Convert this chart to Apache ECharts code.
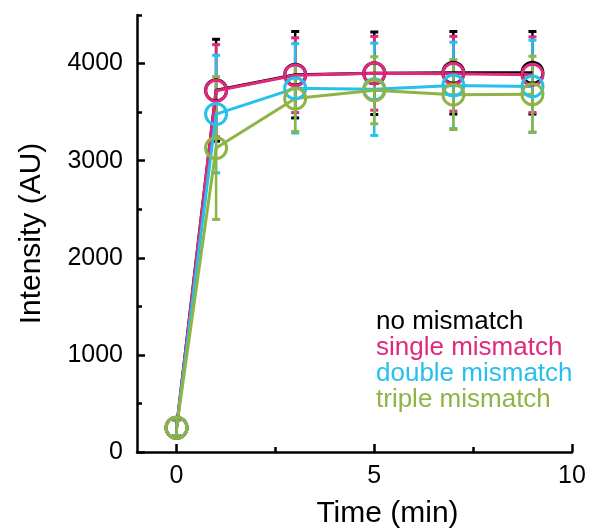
<!DOCTYPE html>
<html>
<head>
<meta charset="utf-8">
<script src="https://cdn.jsdelivr.net/npm/echarts@6/dist/echarts.min.js"></script>
<style>
  html, body { margin: 0; padding: 0; background: #fff; }
  #chart { width: 592px; height: 530px; }
</style>
</head>
<body>
<div id="chart"></div>
<script>
// time points (min)
const times = [0, 1, 3, 5, 7, 9];

// mean intensity (AU) and error (+/-) for each probe
const noMismatch = [250, 3725, 3885, 3900, 3905, 3905];
const noMismatchErr = [80, 525, 445, 425, 425, 425];
const singleMismatch = [250, 3720, 3880, 3900, 3895, 3885];
const singleMismatchErr = [80, 475, 385, 380, 385, 390];
const doubleMismatch = [250, 3480, 3745, 3735, 3775, 3765];
const doubleMismatchErr = [80, 605, 460, 475, 445, 475];
const tripleMismatch = [250, 3130, 3640, 3725, 3680, 3685];
const tripleMismatchErr = [80, 735, 340, 345, 360, 390];

const xMajorTicks = [0, 5, 10];
const xMinorTicks = [2.5, 7.5];
const yMajorTicks = [0, 1000, 2000, 3000, 4000];
const yMinorTicks = [500, 1500, 2500, 3500, 4500];

const groups = [
    { name: 'no mismatch', color: '#000000', mean: noMismatch, err: noMismatchErr },
    { name: 'single mismatch', color: '#e0287c', mean: singleMismatch, err: singleMismatchErr },
    { name: 'double mismatch', color: '#27c0ec', mean: doubleMismatch, err: doubleMismatchErr },
    { name: 'triple mismatch', color: '#8fb446', mean: tripleMismatch, err: tripleMismatchErr }
];

const font = 'Liberation Sans, Arial, sans-serif';

function errorBars(g) {
    return {
        type: 'custom',
        name: g.name,
        data: times.map((t, i) => [t, g.mean[i] - g.err[i], g.mean[i] + g.err[i]]),
        encode: { x: 0, y: [1, 2] },
        renderItem: (params, api) => {
            const lo = api.coord([api.value(0), api.value(1)]);
            const hi = api.coord([api.value(0), api.value(2)]);
            const cap = 4;
            return {
                type: 'group',
                children: [
                    { type: 'line', shape: { x1: lo[0], y1: lo[1], x2: hi[0], y2: hi[1] }, style: { stroke: g.color, lineWidth: 2.5 } },
                    { type: 'line', shape: { x1: lo[0] - cap, y1: lo[1], x2: lo[0] + cap, y2: lo[1] }, style: { stroke: g.color, lineWidth: 3 } },
                    { type: 'line', shape: { x1: hi[0] - cap, y1: hi[1], x2: hi[0] + cap, y2: hi[1] }, style: { stroke: g.color, lineWidth: 3 } }
                ]
            };
        }
    };
}

function meanLine(g) {
    return {
        type: 'line',
        name: g.name,
        data: times.map((t, i) => [t, g.mean[i]]),
        symbol: 'circle',
        symbolSize: 21,
        itemStyle: { color: 'transparent', borderColor: g.color, borderWidth: 3 },
        lineStyle: { color: g.color, width: 3 }
    };
}

const series = [];
groups.forEach(g => {
    series.push(errorBars(g));
    series.push(meanLine(g));
});

const chart = echarts.init(document.getElementById('chart'));

chart.setOption({
    animation: false,
    backgroundColor: '#fff',
    textStyle: { fontFamily: font },
    grid: { left: 137, right: 20, top: 15, bottom: 78, containLabel: false, outerBoundsMode: 'none' },
    legend: {
        orient: 'vertical',
        left: 371,
        top: 309,
        padding: 0,
        icon: 'none',
        itemWidth: 0,
        itemHeight: 26,
        itemGap: 0,
        selectedMode: false,
        textStyle: { fontSize: 26, lineHeight: 26, fontFamily: font },
        data: groups.map(g => ({ name: g.name, textStyle: { color: g.color } }))
    },
    xAxis: [
        {
            type: 'value',
            min: -1,
            max: 10,
            name: 'Time (min)',
            nameLocation: 'middle',
            nameGap: 47,
            nameTextStyle: { fontSize: 30, color: '#000', fontFamily: font, padding: [0, 0, 0, 66] },
            axisLine: { onZero: false, lineStyle: { color: '#000', width: 2.5 } },
            axisTick: { inside: true, length: 8, customValues: xMajorTicks, lineStyle: { color: '#000', width: 2.5 } },
            axisLabel: { customValues: xMajorTicks, fontSize: 25, color: '#000', margin: 12, fontFamily: font, formatter: v => String(v) },
            splitLine: { show: false }
        },
        {
            type: 'value',
            min: -1,
            max: 10,
            position: 'bottom',
            axisLine: { show: false, onZero: false },
            axisTick: { inside: true, length: 5, customValues: xMinorTicks, lineStyle: { color: '#000', width: 2.5 } },
            axisLabel: { show: false },
            splitLine: { show: false }
        }
    ],
    yAxis: [
        {
            type: 'value',
            min: 0,
            max: 4500,
            name: 'Intensity (AU)',
            nameLocation: 'middle',
            nameGap: 90,
            nameTextStyle: { fontSize: 30, color: '#000', fontFamily: font },
            axisLine: { show: true, onZero: false, lineStyle: { color: '#000', width: 2.5 } },
            axisTick: { show: true, inside: true, length: 8, customValues: yMajorTicks, lineStyle: { color: '#000', width: 2.5 } },
            axisLabel: { customValues: yMajorTicks, fontSize: 25, color: '#000', margin: 14, fontFamily: font, formatter: v => String(v) },
            splitLine: { show: false }
        },
        {
            type: 'value',
            min: 0,
            max: 4500,
            position: 'left',
            offset: 0,
            axisLine: { show: false, onZero: false },
            axisTick: { show: true, inside: true, length: 5, customValues: yMinorTicks, lineStyle: { color: '#000', width: 2.5 } },
            axisLabel: { show: false },
            splitLine: { show: false }
        }
    ],
    series: series
});
</script>
</body>
</html>
